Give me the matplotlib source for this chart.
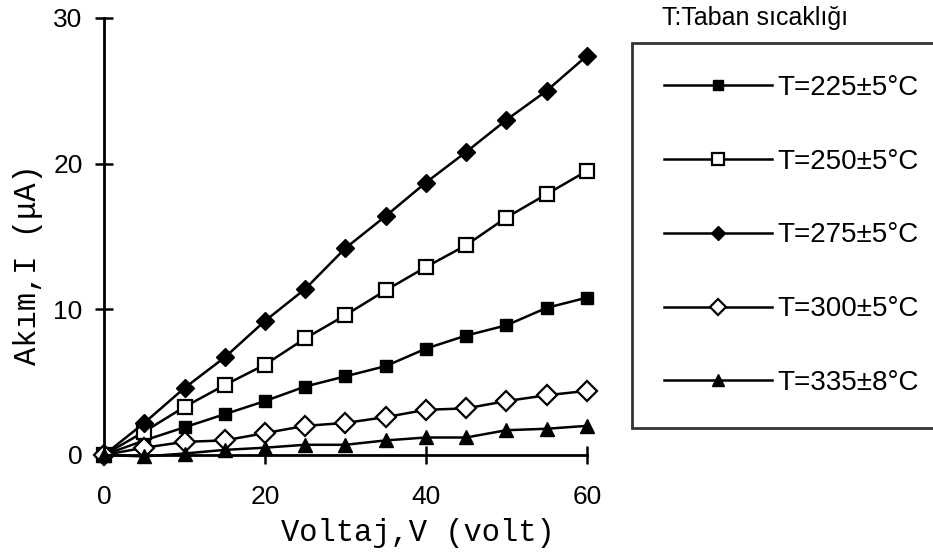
import matplotlib
matplotlib.use("Agg")
import matplotlib.pyplot as plt

voltage = [0, 5, 10, 15, 20, 25, 30, 35, 40, 45, 50, 55, 60]
i_225 = [0, 1.0, 1.9, 2.8, 3.7, 4.7, 5.4, 6.1, 7.3, 8.2, 8.9, 10.1, 10.8]
i_250 = [0, 1.6, 3.3, 4.8, 6.2, 8.0, 9.6, 11.3, 12.9, 14.4, 16.3, 17.9, 19.5]
i_275 = [0, 2.2, 4.6, 6.7, 9.2, 11.4, 14.2, 16.4, 18.7, 20.8, 23.0, 25.0, 27.4]
i_300 = [0, 0.5, 0.9, 1.0, 1.5, 2.0, 2.2, 2.6, 3.1, 3.2, 3.7, 4.1, 4.4]
i_335 = [0, -0.1, 0.1, 0.35, 0.5, 0.7, 0.7, 1.0, 1.2, 1.2, 1.7, 1.8, 2.0]

labels = ["T=225±5°C", "T=250±5°C", "T=275±5°C", "T=300±5°C", "T=335±8°C"]
x_ticks = [0, 20, 40, 60]
y_ticks = [0, 10, 20, 30]

fig = plt.figure(figsize=(9.33, 5.56), dpi=100)
ax = fig.add_axes([0.1115, 0.1817, 0.5175, 0.786])

# marker styles per series
styles = [
	dict(marker="s", markersize=9, markerfacecolor="black"),
	dict(marker="s", markersize=10.5, markerfacecolor="white", markeredgewidth=1.6),
	dict(marker="D", markersize=9, markerfacecolor="black"),
	dict(marker="D", markersize=10, markerfacecolor="white", markeredgewidth=1.6),
	dict(marker="^", markersize=10, markerfacecolor="black"),
]
series = [i_225, i_250, i_275, i_300, i_335]
for ys, st, lab in zip(series, styles, labels):
	ax.plot(voltage, ys, color="black", linewidth=1.8, markeredgecolor="black",
		label=lab, clip_on=False, **st)

ax.set_xlim(0, 60)
ax.set_ylim(0, 30)
ax.set_xticks(x_ticks)
ax.set_yticks(y_ticks)
ax.spines["top"].set_visible(False)
ax.spines["right"].set_visible(False)
for s in ("left", "bottom"):
	ax.spines[s].set_linewidth(2.0)
ax.tick_params(direction="inout", length=13, width=1.8, labelsize=19)
ax.tick_params(axis="y", pad=9)
ax.tick_params(axis="x", pad=15)
for t in ax.get_xticklabels() + ax.get_yticklabels():
	t.set_fontfamily("Liberation Sans")

ax.set_xlabel("Voltaj,V (volt)", fontfamily="Liberation Mono", fontsize=22, va="center", ha="center")
ax.xaxis.set_label_coords(0.65, -0.178)
ax.set_ylabel("Akım,I (μA)", fontfamily="Liberation Mono", fontsize=22, va="center", ha="center")
ax.yaxis.set_label_coords(-0.157, 0.435)

leg = fig.legend(loc="upper left", bbox_to_anchor=(0.677, 0.9227), frameon=True,
	fancybox=False, edgecolor="black", handlelength=3.9, handletextpad=0.18,
	labelspacing=1.72, borderpad=1.15, borderaxespad=0, markerscale=0.8,
	prop={"family": "Liberation Sans", "size": 20})
leg.get_frame().set_linewidth(2.0)

fig.text(0.7095, 0.99, "T:Taban sıcaklığı", fontfamily="Liberation Sans", fontsize=18, ha="left", va="top")

fig.savefig("out.png", dpi=100)
